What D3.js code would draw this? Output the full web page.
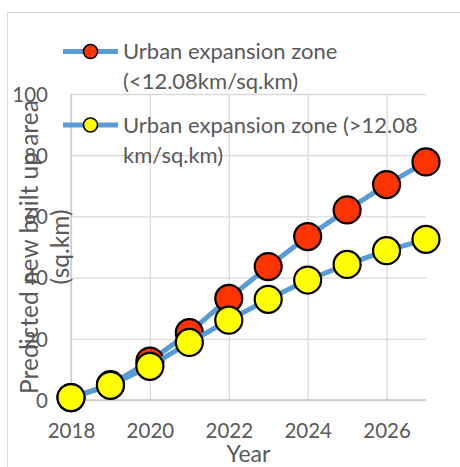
<!DOCTYPE html>
<html>
<head>
<meta charset="utf-8">
<script src="https://cdn.jsdelivr.net/npm/d3@7"></script>
<style>
  html, body { margin: 0; padding: 0; background: #fff; }
  svg { display: block; }
  text { font-family: Lato, "Open Sans", sans-serif; fill: #595959; }
</style>
</head>
<body>
<script>
// Years on the horizontal axis
const years = [2018, 2019, 2020, 2021, 2022, 2023, 2024, 2025, 2026, 2027];
// Predicted new built-up area (sq.km) per zone
const zoneLow  = [0.8, 5.0, 12.7, 22.0, 33.2, 43.6, 53.4, 62.1, 70.4, 77.8];
const zoneHigh = [0.8, 4.8, 11.0, 18.8, 26.1, 32.9, 39.2, 44.3, 48.8, 52.5];
const seriesNames = [
  ["Urban expansion zone", "(<12.08km/sq.km)"],
  ["Urban expansion zone (>12.08", "km/sq.km)"]
];
const markerFills = ["#FF3300", "#FFFF00"];
const xTicks = [2018, 2020, 2022, 2024, 2026];
const yTicks = [0, 20, 40, 60, 80, 100];
const xTitle = "Year";
const yTitle = ["Predicted new built up area", "(sq.km)"];

const W = 460, H = 467;
const plot = { left: 71, right: 426, top: 94, bottom: 400 };
const lineColor = "#5B9BD5";
const gridColor = "#d9d9d9";

const svg = d3.select("body").append("svg").attr("width", W).attr("height", H);

// chart frame
svg.append("rect")
  .attr("x", 7.5).attr("y", 12.5)
  .attr("width", W + 20).attr("height", H + 20)
  .attr("fill", "#fff").attr("stroke", gridColor).attr("stroke-width", 1);

const x = d3.scaleLinear().domain([2018, 2027]).range([plot.left, plot.right]);
const y = d3.scaleLinear().domain([0, 100]).range([plot.bottom, plot.top]);

// vertical gridlines + year labels
const xAxis = svg.append("g")
  .attr("transform", `translate(0,${plot.bottom})`)
  .call(d3.axisBottom(x).tickValues(xTicks).tickFormat(d3.format("d"))
    .tickSizeInner(-(plot.bottom - plot.top)).tickSizeOuter(0).tickPadding(0));
xAxis.select(".domain").remove();
xAxis.selectAll(".tick line").attr("stroke", gridColor).attr("stroke-width", 1.3);
xAxis.selectAll(".tick text")
  .attr("y", 38).attr("dy", null)
  .attr("font-size", 20.5).attr("fill", "#595959");

// horizontal gridlines + value labels
const yAxis = svg.append("g")
  .attr("transform", `translate(${plot.left},0)`)
  .call(d3.axisLeft(y).tickValues(yTicks).tickFormat(d3.format("d"))
    .tickSizeInner(-(plot.right - plot.left)).tickSizeOuter(0).tickPadding(23));
yAxis.select(".domain").remove();
yAxis.selectAll(".tick line").attr("stroke", gridColor).attr("stroke-width", 1.3);
yAxis.selectAll(".tick text")
  .attr("font-size", 20.5).attr("fill", "#595959").attr("dy", "0.36em");

// axis lines
svg.append("line")
  .attr("x1", plot.left).attr("x2", plot.left)
  .attr("y1", plot.top).attr("y2", plot.bottom)
  .attr("stroke", "#c9c9c9").attr("stroke-width", 1.3);
svg.append("line")
  .attr("x1", plot.left).attr("x2", plot.right)
  .attr("y1", plot.bottom).attr("y2", plot.bottom)
  .attr("stroke", "#c9c9c9").attr("stroke-width", 1.3);

// series
const line = d3.line().x(d => x(d.year)).y(d => y(d.value));
[zoneLow, zoneHigh].forEach((vals, i) => {
  const pts = years.map((yr, j) => ({ year: yr, value: vals[j] }));
  const g = svg.append("g");
  g.append("path").datum(pts)
    .attr("d", line)
    .attr("fill", "none")
    .attr("stroke", lineColor)
    .attr("stroke-width", 5)
    .attr("stroke-linejoin", "round");
  g.selectAll("circle").data(pts).join("circle")
    .attr("cx", d => x(d.year)).attr("cy", d => y(d.value))
    .attr("r", 13.5)
    .attr("fill", markerFills[i])
    .attr("stroke", "#000").attr("stroke-width", 2.2);
});

// axis titles
svg.append("text")
  .attr("x", (plot.left + plot.right) / 2).attr("y", 462)
  .attr("text-anchor", "middle").attr("font-size", 23)
  .text(xTitle);

const yt = svg.append("text")
  .attr("transform", "translate(0,247) rotate(-90)")
  .attr("text-anchor", "middle").attr("font-size", 24.5);
yt.append("tspan").attr("x", 0).attr("y", 38).text(yTitle[0]);
yt.append("tspan").attr("x", 0).attr("y", 69).text(yTitle[1]);

// legend
const legendRows = [51.5, 125];
seriesNames.forEach((lines, i) => {
  const cy = legendRows[i];
  const g = svg.append("g");
  g.append("line")
    .attr("x1", 63).attr("x2", 118).attr("y1", cy).attr("y2", cy)
    .attr("stroke", lineColor).attr("stroke-width", 5);
  g.append("circle")
    .attr("cx", 90.5).attr("cy", cy).attr("r", 7)
    .attr("fill", markerFills[i]).attr("stroke", "#000").attr("stroke-width", 1.6);
  const t = g.append("text").attr("font-size", 22);
  lines.forEach((s, k) => {
    t.append("tspan").attr("x", 123).attr("y", cy + 7.5 + k * 30).text(s);
  });
});
</script>
</body>
</html>
